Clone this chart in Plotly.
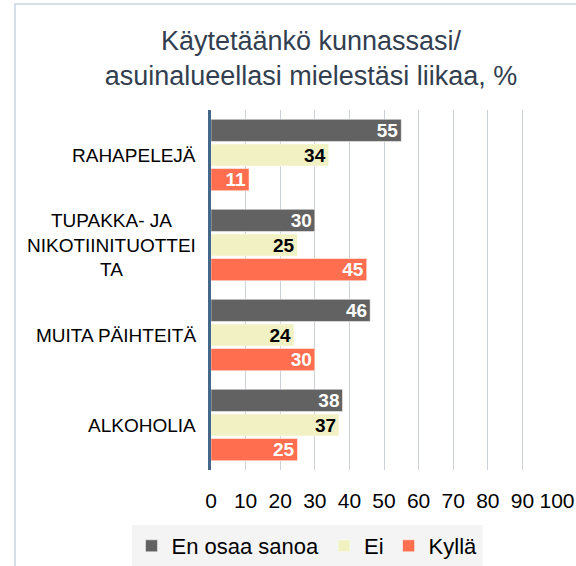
import plotly.graph_objects as go

categories = ["RAHAPELEJÄ", "TUPAKKA- JA NIKOTIINITUOTTEITA", "MUITA PÄIHTEITÄ", "ALKOHOLIA"]
category_labels = ["RAHAPELEJÄ", "TUPAKKA- JA<br>NIKOTIINITUOTTEI<br>TA", "MUITA PÄIHTEITÄ", "ALKOHOLIA"]
en_osaa_sanoa = [55, 30, 46, 38]
ei = [34, 25, 24, 37]
kylla = [11, 45, 30, 25]
x_ticks = [0, 10, 20, 30, 40, 50, 60, 70, 80, 90, 100]

series = [
    ("En osaa sanoa", en_osaa_sanoa, "#626262", "white"),
    ("Ei", ei, "#F1F1C3", "black"),
    ("Kyllä", kylla, "#FF6E4F", "white"),
]

fig = go.Figure()
for name, vals, color, tcolor in series:
    fig.add_trace(go.Bar(
        y=categories, x=vals, name=name, orientation="h",
        marker=dict(color=color, line=dict(color="rgba(255,255,255,0.5)", width=1)),
        text=vals, textposition="inside", insidetextanchor="end", textangle=0,
        textfont=dict(family="Liberation Sans, Arial", size=19, color=tcolor, weight="bold"),
        constraintext="none",
    ))

for cat, lab in zip(categories, category_labels):
    fig.add_annotation(
        x=-0.038, xref="paper", y=cat, yref="y", text=lab, showarrow=False,
        xanchor="right", yanchor="middle", align="center",
        font=dict(family="Liberation Sans, Arial", size=19, color="black"),
    )

# chart frame
fig.add_shape(type="rect", xref="paper", yref="paper",
              x0=(15 - 211) / 346, x1=(578 - 211) / 346,
              y0=(470 - 570) / 360, y1=(470 - 4) / 360,
              line=dict(color="#C9D3DF", width=1.5), layer="below")

fig.update_layout(
    width=576, height=566,
    margin=dict(l=211, r=19, t=110, b=96),
    paper_bgcolor="white", plot_bgcolor="white",
    barmode="group", bargap=0.18, bargroupgap=0.1,
    title=dict(text="Käytetäänkö kunnassasi/<br>asuinalueellasi mielestäsi liikaa, %",
               x=311 / 576, xanchor="center", y=1 - 50 / 566, yanchor="top",
               font=dict(family="Liberation Sans, Arial", size=27, color="#333F50")),
    font=dict(family="Liberation Sans, Arial", color="black"),
    legend=dict(orientation="h", xref="container", yref="container",
                x=307 / 576, xanchor="center",
                y=1 - 525 / 566, yanchor="top",
                bgcolor="#F4F4F4", font=dict(size=22, color="black"),
                itemwidth=30, traceorder="normal", tracegroupgap=0),
    showlegend=True,
)
fig.update_xaxes(range=[0, 100], tickvals=x_ticks, showgrid=True, gridcolor="#CDD2DA",
                 gridwidth=1, zeroline=False, showline=False, automargin=False,
                 ticks="outside", ticklen=12, tickcolor="rgba(0,0,0,0)",
                 tickfont=dict(size=21, color="black"))
fig.update_yaxes(autorange="reversed", showticklabels=False, showgrid=False, automargin=False,
                 showline=True, linecolor="#44688C", linewidth=3)

fig.write_html("out.html", config={"displayModeBar": False},
               post_script="document.body.style.margin='0';document.body.style.overflow='hidden';")
